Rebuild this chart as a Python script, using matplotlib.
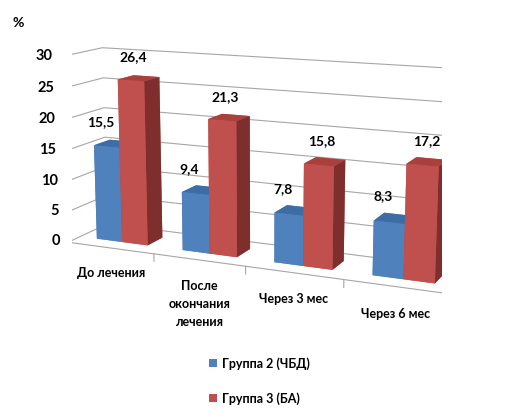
import numpy as np
import matplotlib
matplotlib.use("Agg")
import matplotlib.pyplot as plt
from matplotlib.patches import Patch

categories = ["До лечения", "После\nокончания\nлечения", "Через 3 мес", "Через 6 мес"]
series_names = ["Группа 2 (ЧБД)", "Группа 3 (БА)"]
group2 = [15.5, 9.4, 7.8, 8.3]
group3 = [26.4, 21.3, 15.8, 17.2]
yticks = [0, 5, 10, 15, 20, 25, 30]
labels2 = ["15,5", "9,4", "7,8", "8,3"]
labels3 = ["26,4", "21,3", "15,8", "17,2"]

FONT = "Lato"
plt.rcParams["font.family"] = [FONT, "DejaVu Sans"]
GRID = "#A6A6A6"

blue_faces = ["#4F81BD", "#3D6DA5", "#4F81BD", "#4F81BD", "#4F81BD", "#2F5585"]
red_faces = ["#C0504D", "#A9403D", "#C0504D", "#C0504D", "#C0504D", "#7E2E2D"]

fig = plt.figure(figsize=(5.14, 4.2), dpi=100)
ax = fig.add_axes([0.0, 0.165, 1.0, 0.88], projection="3d", computed_zorder=False)
ax.set_proj_type("persp", focal_length=0.6)
ax.view_init(elev=12.5, azim=-66)

n = len(categories)
w = 0.3
depth = 0.4
y0 = 0.3
xs = np.arange(n)
x_lo, x_hi = -0.5, n - 0.5
zmax = yticks[-1]

for t in yticks:
    ax.plot([x_lo, x_lo, x_hi], [0, 1, 1], [t, t, t], color=GRID, lw=0.8, zorder=1)
ax.plot([x_lo, x_hi, x_hi], [0, 0, 1], [0, 0, 0], color=GRID, lw=0.8, zorder=1)
ax.plot([x_lo, x_lo], [0, 0], [0, zmax], color=GRID, lw=0.8, zorder=1)
for t in yticks:
    ax.plot([x_lo - 0.06, x_lo], [0, 0], [t, t], color=GRID, lw=0.8, zorder=1)
    ax.text(x_lo - 0.1, 0, t, str(t), ha="right", va="center",
            fontsize=10.5, fontweight="bold", zorder=5)
for b in np.arange(n + 1) - 0.5:
    ax.plot([b, b], [0, 0], [0, -1.2], color=GRID, lw=0.8, zorder=1)

ax.bar3d(xs - w, np.full(n, y0), np.zeros(n), w, depth, group2,
         color=blue_faces * n, shade=False, edgecolor="none", zorder=2)
ax.bar3d(xs, np.full(n, y0), np.zeros(n), w, depth, group3,
         color=red_faces * n, shade=False, edgecolor="none", zorder=3)

ax.set_xlim(x_lo, x_hi)
ax.set_ylim(0, 1)
ax.set_zlim(0, zmax)
ax.set_xticks([])
ax.set_yticks([])
ax.set_zticks([])
ax.set_box_aspect((4.4, 0.85, 2.1), zoom=1.22)
ax.set_axis_off()
for a in (ax.xaxis, ax.yaxis, ax.zaxis):
    a.label.set_visible(False)
    a.offsetText.set_visible(False)

for i in range(n):
    ax.text(i - w / 2 - 0.06, y0, group2[i] + 3.8, labels2[i], ha="center", va="center",
            fontsize=10, fontweight="bold", zorder=6)
    ax.text(i + w / 2 + 0.03, y0, group3[i] + 3.6, labels3[i], ha="center", va="center",
            fontsize=10, fontweight="bold", zorder=6)
    ax.text(i, 0, -3.2, categories[i], ha="center", va="top",
            fontsize=9, fontweight="bold", linespacing=1.6, zorder=6)

fig.text(0.025, 0.935, "%", fontsize=10, fontweight="bold")

handles = [Patch(facecolor="#4F81BD"), Patch(facecolor="#C0504D")]
fig.legend(handles, series_names, loc="center", bbox_to_anchor=(0.505, 0.093),
           frameon=False, prop={"weight": "bold", "size": 9},
           handlelength=0.6, handleheight=0.6, labelspacing=1.8, handletextpad=0.4)

fig.savefig("out.png", dpi=100)
